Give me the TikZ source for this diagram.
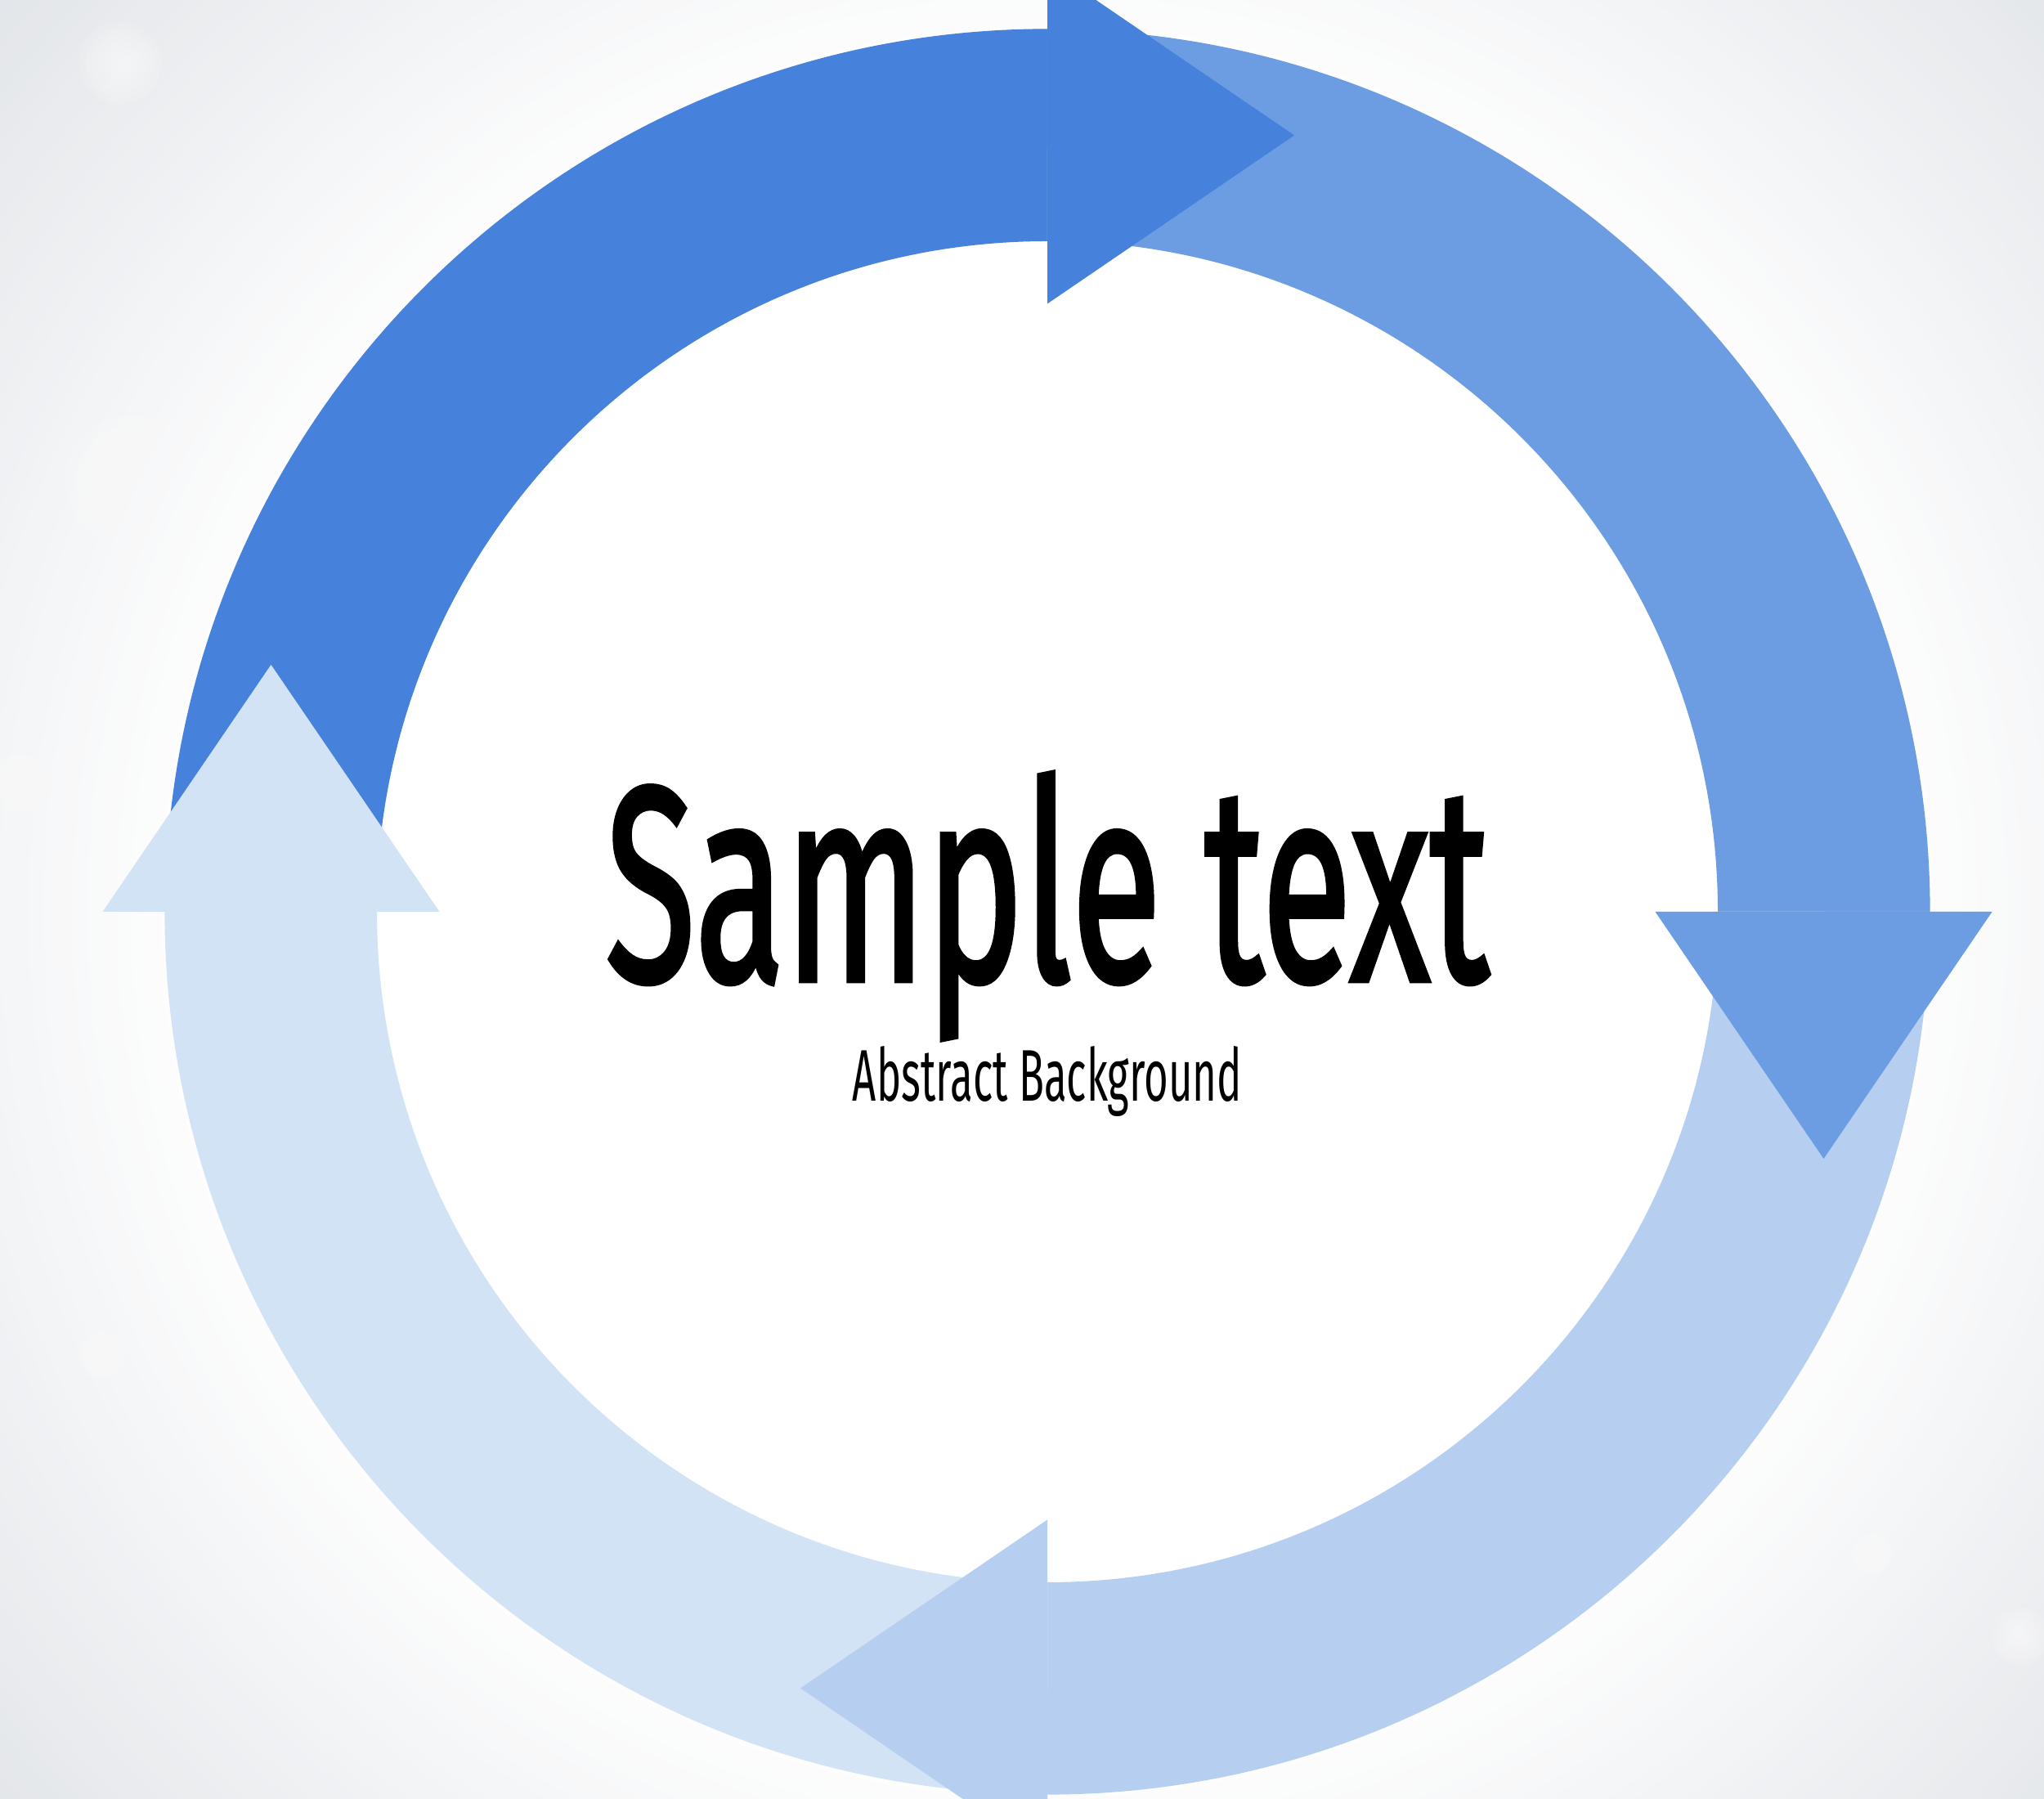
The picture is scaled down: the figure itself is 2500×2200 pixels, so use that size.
\documentclass[tikz,border=0pt]{standalone}
\usepackage{fontspec}
\setmainfont{Fira Sans}
\newfontfamily\titlefont[FakeBold=2]{Fira Sans}
\definecolor{arrowA}{HTML}{4682DC}
\definecolor{arrowB}{HTML}{6C9CE2}
\definecolor{arrowC}{HTML}{B6CFF0}
\definecolor{arrowD}{HTML}{D3E3F6}
\definecolor{bgedge}{HTML}{E1E4E8}
\tikzset{
  band/.style={fill=#1},
  head/.style={fill=#1},
}
\begin{document}
\begin{tikzpicture}[x=0.01cm,y=0.01cm]
\useasboundingbox (0,0) rectangle (2500,2200);
\clip (0,0) rectangle (2500,2200);
% background: stepped radial gradient
\fill[bgedge] (0,0) rectangle (2500,2200);
\foreach \k in {0,...,40}{
  \pgfmathsetmacro{\rad}{17.5-\k*0.18}
  \pgfmathsetmacro{\mixp}{\k*2.5}
  \fill[white!\mixp!bgedge] (1281,1085) circle[radius=\rad cm];
}
% soft bokeh spots
\foreach \bx/\by/\br in {147/2123/0.5, 528/2001/0.35, 407/1872/0.45, 160/1612/0.8, 880/2136/0.3, 614/2093/0.2, 171/1387/0.3, 24/1243/0.35, 2479/1243/0.35, 2376/606/0.45, 2471/199/0.35, 124/542/0.3, 2290/300/0.25}{
  \foreach \j in {1,...,7}{
    \pgfmathsetmacro{\rr}{\br*(1.15-\j*0.15)}
    \fill[white, fill opacity=0.12] (\bx,\by) circle[radius=\rr cm];
  }
}
\coordinate (c) at (1281,1085);
% bands (outer radius 10.79cm, inner 8.20cm)
\fill[band=arrowA] (202,1085) arc[start angle=180,end angle=90,radius=10.79cm]
  -- (1281,1905) arc[start angle=90,end angle=180,radius=8.20cm] -- cycle;
\fill[band=arrowB] (1281,2164) arc[start angle=90,end angle=0,radius=10.79cm]
  -- (2101,1085) arc[start angle=0,end angle=90,radius=8.20cm] -- cycle;
\fill[band=arrowC] (2360,1085) arc[start angle=0,end angle=-90,radius=10.79cm]
  -- (1281,265) arc[start angle=-90,end angle=0,radius=8.20cm] -- cycle;
\fill[band=arrowD] (1281,6) arc[start angle=-90,end angle=-180,radius=10.79cm]
  -- (461,1085) arc[start angle=180,end angle=270,radius=8.20cm] -- cycle;
% heads
\fill[head=arrowA] (1281,2240.5) -- (1583,2034.5) -- (1281,1828.5) -- cycle;
\fill[head=arrowB] (2436.5,1085) -- (2230.5,783) -- (2024.5,1085) -- cycle;
\fill[head=arrowC] (1281,341.5) -- (979,135.5) -- (1281,-70.5) -- cycle;
\fill[head=arrowD] (125.5,1085) -- (331.5,1387) -- (537.5,1085) -- cycle;
% text
\node[anchor=base, inner sep=0pt] (title) at (1281,1001)
  {\resizebox{10.80cm}{2.54cm}{\titlefont Sample text}};
\node[anchor=base, inner sep=0pt] (subtitle) at (1281,853)
  {\resizebox{4.76cm}{0.67cm}{Abstract Background}};
\end{tikzpicture}
\end{document}
